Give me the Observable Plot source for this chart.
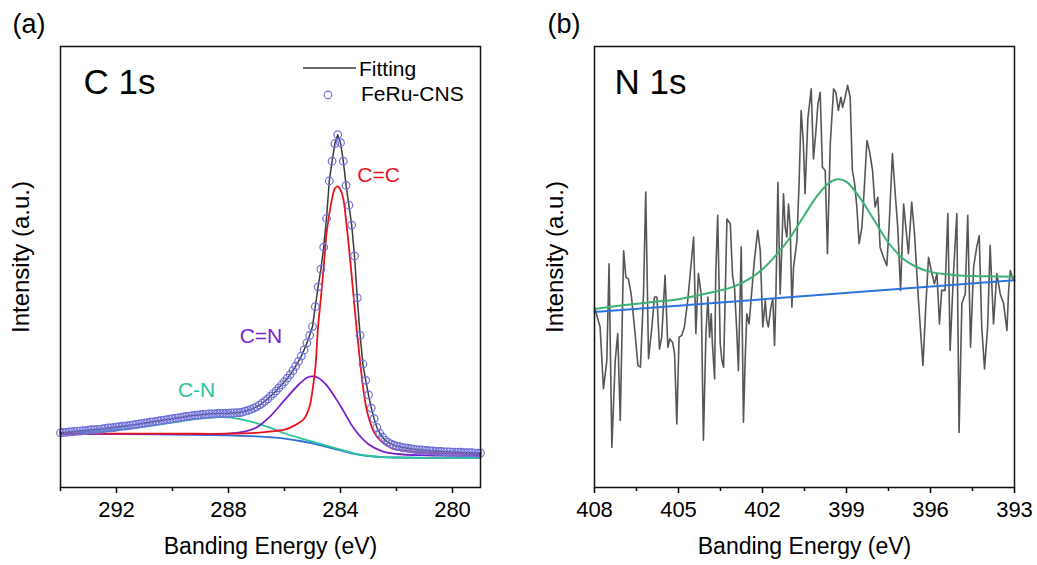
<!DOCTYPE html>
<html><head><meta charset="utf-8">
<script src="https://cdn.jsdelivr.net/npm/d3@7"></script>
<script src="https://cdn.jsdelivr.net/npm/@observablehq/plot@0.6"></script>
<style>
body{margin:0;background:#fff;}
#wrap{position:relative;width:1037px;height:565px;overflow:hidden;font-family:"Liberation Sans",Arial,sans-serif;}
#left,#right{position:absolute;top:0;}
#left{left:0;} #right{left:518px;}
#legend{position:absolute;left:296px;top:50px;}
</style></head><body>
<div id="wrap"><div id="left"></div><div id="right"></div>
<svg id="legend" width="200" height="60" font-family="Liberation Sans, Arial, sans-serif" font-size="21">
  <line x1="7" y1="18" x2="60" y2="18" stroke="#3b3b3b" stroke-width="1.5"/>
  <text x="63" y="26" fill="#000">Fitting</text>
  <circle cx="32" cy="45" r="3.8" fill="none" stroke="#7070dc" stroke-width="1.2"/>
  <text x="65" y="51" fill="#000">FeRu-CNS</text>
</svg>
</div>
<script>
// ---------- C 1s (panel a) ----------
const cEnergy = [
294.0,293.9,293.8,293.7,293.6,293.5,293.4,293.3,293.2,293.1,
293.0,292.9,292.8,292.7,292.6,292.5,292.4,292.3,292.2,292.1,
292.0,291.9,291.8,291.7,291.6,291.5,291.4,291.3,291.2,291.1,
291.0,290.9,290.8,290.7,290.6,290.5,290.4,290.3,290.2,290.1,
290.0,289.9,289.8,289.7,289.6,289.5,289.4,289.3,289.2,289.1,
289.0,288.9,288.8,288.7,288.6,288.5,288.4,288.3,288.2,288.1,
288.0,287.9,287.8,287.7,287.6,287.5,287.4,287.3,287.2,287.1,
287.0,286.9,286.8,286.7,286.6,286.5,286.4,286.3,286.2,286.1,
286.0,285.9,285.8,285.7,285.6,285.5,285.4,285.3,285.2,285.1,
285.0,284.9,284.8,284.7,284.6,284.5,284.4,284.3,284.2,284.1,
284.0,283.9,283.8,283.7,283.6,283.5,283.4,283.3,283.2,283.1,
283.0,282.9,282.8,282.7,282.6,282.5,282.4,282.3,282.2,282.1,
282.0,281.9,281.8,281.7,281.6,281.5,281.4,281.3,281.2,281.1,
281.0,280.9,280.8,280.7,280.6,280.5,280.4,280.3,280.2,280.1,
280.0,279.9,279.8,279.7,279.6,279.5,279.4,279.3,279.2,279.1,
279.0];
const cIntensity = [
12.4,12.5,12.5,12.6,12.6,12.7,12.8,12.8,12.9,12.9,
13.0,13.1,13.1,13.2,13.2,13.3,13.4,13.5,13.5,13.6,
13.7,13.8,13.9,13.9,14.0,14.1,14.2,14.3,14.4,14.5,
14.6,14.7,14.8,14.9,15.0,15.1,15.2,15.3,15.4,15.5,
15.6,15.7,15.8,15.9,16.0,16.1,16.2,16.3,16.4,16.4,
16.5,16.6,16.6,16.7,16.7,16.7,16.8,16.8,16.8,16.8,
16.8,16.9,16.9,17.0,17.0,17.1,17.3,17.5,17.7,18.0,
18.3,18.7,19.1,19.6,20.1,20.7,21.3,21.9,22.6,23.3,
24.0,24.8,25.6,26.5,27.5,28.6,29.8,31.2,32.8,34.5,
36.5,41.0,45.5,49.5,54.5,61.0,69.5,74.0,78.0,80.0,
78.2,74.0,68.5,64.0,59.5,52.5,43.0,34.5,28.0,24.3,
21.0,18.0,15.6,13.6,12.3,11.4,10.7,10.2,9.9,9.6,
9.4,9.3,9.1,9.0,8.9,8.8,8.7,8.6,8.5,8.5,
8.4,8.4,8.3,8.3,8.2,8.2,8.2,8.1,8.1,8.1,
8.0,8.0,8.0,8.0,7.9,7.9,7.9,7.9,7.8,7.8,
7.8];

// fitted components (energy, intensity)
const bgE = [294,292,290,288,287,286,285.5,285,284.5,284,283.5,283,282.5,282,280,279];
const bgI = [12.2,12.1,12.0,11.8,11.6,11.1,10.6,10.0,9.2,8.4,7.6,7.1,6.9,6.8,6.7,6.7];
const cnE = [294,293,292,291,290,289.5,289,288.5,288,287.5,287,286.5,286,285.5,285,284.5,284,283.5,283,282.5,282,280,279];
const cnI = [12.3,12.6,13.1,13.8,14.7,15.2,15.6,15.9,15.9,15.4,14.6,13.5,12.3,11.3,10.4,9.5,8.6,7.7,7.2,6.9,6.8,6.7,6.7];
const cdnE = [294,290,288.5,288,287.5,287,286.5,286,285.5,285.2,285.0,284.8,284.5,284.0,283.5,283.0,282.5,282,281,279];
const cdnI = [12.2,12.1,12.1,12.2,12.6,13.6,16.2,19.8,23.3,24.9,25.2,24.9,23.2,18.5,13.2,9.8,8.2,7.6,7.3,7.2];
const ccE = [294,290,288,287,286.5,286,285.6,285.3,285.1,285.0,284.9,284.8,284.7,284.6,284.5,284.4,284.3,284.2,284.1,284.0,283.9,283.8,283.7,283.6,283.5,283.4,283.3,283.2,283.1,283.0,282.8,282.6,282.4,282.2,282,281,280,279];
const ccI = [12.2,12.2,12.2,12.4,12.7,13.1,14.2,15.6,18.5,22.0,27.0,36.5,43.0,50.0,57.5,62.0,65.5,67.8,68.3,67.5,65.5,60.5,54.5,48.0,41.0,34.5,28.5,23.0,18.8,16.0,12.5,10.8,9.8,9.0,8.6,7.9,7.7,7.6];

const cLabels = ["C=C", "C=N", "C-N"];
const cLabelE = [282.64, 286.84, 289.14];
const cLabelI = [70.9, 34.4, 22.1];
const cLabelColor = ["#e8141b", "#7a22d0", "#2ac39b"];

const cTicks = [292, 288, 284, 280];
const cMinor = [294, 290, 286, 282];

// ---------- N 1s (panel b) ----------
const nEnergy = [
408.0,407.8,407.68,407.56,407.48,407.38,407.26,407.17,407.08,406.96,
406.88,406.79,406.69,406.55,406.45,406.36,406.25,406.17,406.07,405.95,
405.86,405.77,405.68,405.6,405.48,405.38,405.31,405.21,405.14,405.06,
404.98,404.88,404.79,404.67,404.46,404.38,404.29,404.19,404.11,404.02,
403.95,403.89,403.83,403.79,403.71,403.67,403.6,403.51,403.45,403.39,
403.33,403.27,403.15,403.07,403.0,402.92,402.86,402.76,402.68,402.62,
402.56,402.48,402.38,402.29,402.17,402.08,401.99,401.9,401.85,401.79,
401.7,401.63,401.57,401.52,401.45,401.37,401.31,401.25,401.19,401.13,
401.07,401.01,400.95,400.89,400.77,400.69,400.62,400.54,400.48,400.38,
400.26,400.18,400.1,400.02,399.94,399.86,399.76,399.68,399.58,399.46,
399.38,399.29,399.2,399.14,399.05,398.96,398.87,398.79,398.71,398.63,
398.55,398.45,398.37,398.27,398.17,398.07,397.98,397.88,397.8,397.68,
397.56,397.48,397.36,397.26,397.17,397.07,396.96,396.88,396.79,396.67,
396.57,396.43,396.27,396.17,396.07,395.95,395.86,395.77,395.68,395.6,
395.48,395.38,395.3,395.18,395.06,394.98,394.88,394.76,394.67,394.57,
394.46,394.35,394.26,394.17,394.07,393.96,393.87,393.75,393.63,393.51,
393.39,393.27,393.21,393.15,393.07,393.0];
const nIntensity = [
40.9,36.4,22.4,28.8,50.7,9.1,28.8,34.9,15.2,53.7,
47.7,47.3,43.9,34.9,27.7,27.3,43.9,67.0,29.2,36.4,
43.2,43.2,31.4,34.1,48.1,31.8,33.7,32.9,30.3,14.4,
34.1,34.5,36.4,42.4,56.8,34.9,48.5,43.9,10.7,34.9,
43.2,34.1,39.4,32.6,24.6,48.5,61.7,32.6,28.8,27.3,
43.9,60.9,59.8,48.0,45.4,35.6,26.5,54.5,14.8,28.8,
39.4,37.1,44.7,51.5,58.3,53.7,36.4,42.4,37.9,36.4,
40.9,42.8,32.2,43.9,69.2,43.9,54.5,66.6,59.0,56.8,
64.3,59.0,40.9,50.0,56.0,69.6,85.5,77.9,66.6,83.6,
90.4,74.5,80.2,87.0,89.6,72.6,71.9,53.0,77.9,90.4,
89.6,85.5,88.5,86.2,88.5,91.2,88.5,71.9,68.9,63.6,
55.3,59.0,67.3,78.7,76.0,71.9,63.6,65.8,54.5,52.2,
50.3,59.0,75.7,66.6,59.0,44.7,64.3,59.0,53.0,64.7,
57.5,42.4,27.7,40.9,52.2,48.5,46.2,48.5,37.1,44.7,
44.7,62.1,31.1,48.5,62.1,12.5,41.7,43.9,61.7,31.8,
50.0,54.5,57.1,36.4,26.9,36.4,54.9,37.1,48.5,43.9,
41.7,35.6,44.7,49.2,47.4,47.0];

const nBgE = [408, 393];
const nBgI = [39.8, 47.0];
const nFitE = [408,407,406,405,404.5,404,403.5,403,402.5,402,401.5,401,400.5,400,399.6,399.3,399,398.5,398,397.5,397,396.5,396,395.5,395,394,393];
const nFitI = [40.5,41.3,42.0,42.7,43.3,44.0,44.7,45.6,47.2,49.5,52.8,56.8,61.8,66.5,69.2,69.9,69.3,65.5,60.5,55.5,52.0,50.0,48.9,48.4,48.1,47.9,47.8];

const nTicks = [408, 405, 402, 399, 396, 393];
const nMinor = [406.5, 403.5, 400.5, 397.5, 394.5];

// ---------- drawing ----------
const FONT = '"Liberation Sans", Arial, sans-serif';
const idx = a => a.map((_, i) => i);
const series = (E, I, opts) => Plot.line(idx(E), {x: i => E[i], y: i => I[i], ...opts});

function axes(ticks, minor) {
  return [
    Plot.axisX({ticks: minor, tickSize: 4, tickFormat: () => "", label: null, strokeWidth: 1.5}),
    Plot.axisX({ticks, tickSize: 6, tickPadding: 8, tickFormat: d => String(d), label: null, strokeWidth: 1.5, fontSize: 22}),
    Plot.text(["Banding Energy (eV)"], {frameAnchor: "bottom", dy: 50.5, lineAnchor: "top", textAnchor: "middle", fontSize: 23}),
    Plot.text(["Intensity (a.u.)"], {frameAnchor: "left", dx: -39, dy: -10, rotate: -90, lineAnchor: "middle", textAnchor: "middle", fontSize: 24}),
    Plot.frame({stroke: "#111", strokeWidth: 1.5})
  ];
}

const common = {
  height: 565, marginTop: 46, marginBottom: 78,
  y: {domain: [0, 100], axis: null},
  style: {fontFamily: FONT, fontSize: "21px", color: "#000", background: "transparent", overflow: "visible"}
};

const ci = idx(cEnergy);
const left = Plot.plot({
  ...common,
  width: 518, marginLeft: 60, marginRight: 38,
  x: {domain: [294, 279], axis: null},
  marks: [
    series(bgE, bgI, {stroke: "#2f6fd6", strokeWidth: 1.8, curve: "catmull-rom"}),
    series(cnE, cnI, {stroke: "#2ac39b", strokeWidth: 1.8, curve: "catmull-rom"}),
    series(cdnE, cdnI, {stroke: "#7a22d0", strokeWidth: 1.8, curve: "catmull-rom"}),
    series(ccE, ccI, {stroke: "#e8141b", strokeWidth: 1.8, curve: "catmull-rom"}),
    Plot.line(ci, {x: i => cEnergy[i], y: i => cIntensity[i], stroke: "#3b3b3b", strokeWidth: 1.5}),
    Plot.dot(ci, {x: i => cEnergy[i], y: i => cIntensity[i], r: 3.8, stroke: "#7070dc", strokeWidth: 1.2, fill: "none"}),
    ...cLabels.map((t, i) => Plot.text([t], {x: () => cLabelE[i], y: () => cLabelI[i], fill: cLabelColor[i], fontSize: 21, lineAnchor: "middle", textAnchor: "middle"})),
    Plot.text(["C 1s"], {frameAnchor: "top-left", dx: 23, dy: 22.5, lineAnchor: "top", textAnchor: "start", fontSize: 35}),
    Plot.text(["(a)"], {frameAnchor: "top-left", dx: -48, dy: -33, lineAnchor: "top", textAnchor: "start", fontSize: 27}),
    ...axes(cTicks, cMinor)
  ]
});
document.getElementById("left").append(left);

const ni = idx(nEnergy);
const right = Plot.plot({
  ...common,
  width: 519, marginLeft: 76, marginRight: 23,
  x: {domain: [408, 393], axis: null},
  marks: [
    Plot.line(ni, {x: i => nEnergy[i], y: i => nIntensity[i], stroke: "#555", strokeWidth: 1.6}),
    series(nBgE, nBgI, {stroke: "#2b74e0", strokeWidth: 2}),
    series(nFitE, nFitI, {stroke: "#3bb273", strokeWidth: 2, curve: "catmull-rom"}),
    Plot.text(["N 1s"], {frameAnchor: "top-left", dx: 20, dy: 22.5, lineAnchor: "top", textAnchor: "start", fontSize: 35}),
    Plot.text(["(b)"], {frameAnchor: "top-left", dx: -47, dy: -33, lineAnchor: "top", textAnchor: "start", fontSize: 27}),
    ...axes(nTicks, nMinor)
  ]
});
document.getElementById("right").append(right);
</script>
</body></html>
